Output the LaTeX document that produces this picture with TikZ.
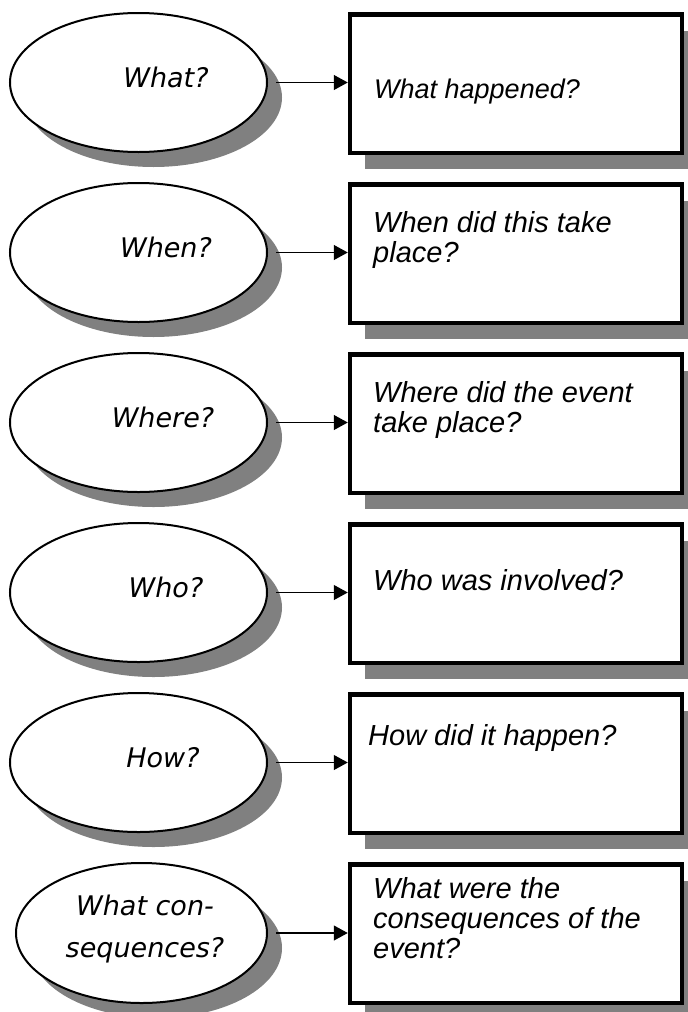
\documentclass[tikz,border=0pt]{standalone}
\usepackage{fontspec}
\setmainfont{Liberation Sans}
\newfontfamily\ellfont{DejaVu Sans}
\usetikzlibrary{shapes.geometric,shadows,arrows.meta}
\definecolor{shadowgray}{RGB}{128,128,128}
\tikzset{
  oval/.style={ellipse, draw, line width=2pt, fill=white, inner sep=0pt,
    minimum width=257pt, minimum height=139pt,
    drop shadow={shadow xshift=15pt, shadow yshift=-15pt, fill=shadowgray, opacity=1}},
  qbox/.style={rectangle, draw, line width=4.5pt, fill=white, inner sep=0pt,
    minimum width=332pt, minimum height=138.5pt,
    drop shadow={shadow xshift=15pt, shadow yshift=-16pt, fill=shadowgray, opacity=1}},
  etext/.style={font=\ellfont\itshape\fontsize{27}{42}\selectfont, anchor=base, inner sep=0pt, align=center},
  btext/.style={font=\itshape\fontsize{29}{30}\selectfont, anchor=base west, inner sep=0pt, align=left},
  arr/.style={line width=1.3pt, -{Triangle[length=14pt,width=15pt]}}
}
\begin{document}
\begin{tikzpicture}[x=1pt,y=-1pt]
\clip (0,0) rectangle (688,1012);
\useasboundingbox (0,0) rectangle (688,1012);
% ellipses
\node[oval] (e1) at (138.5,82.5) {};
\node[oval] (e2) at (138.5,252.5) {};
\node[oval] (e3) at (138.5,422.5) {};
\node[oval] (e4) at (138.5,592.5) {};
\node[oval] (e5) at (138.5,762.5) {};
\node[oval, minimum width=251pt, minimum height=140pt] (e6) at (141.5,933) {};
% boxes
\node[qbox] (b1) at (516,83.75) {};
\node[qbox] (b2) at (516,253.75) {};
\node[qbox] (b3) at (516,423.75) {};
\node[qbox] (b4) at (516,593.75) {};
\node[qbox] (b5) at (516,763.75) {};
\node[qbox] (b6) at (516,933.75) {};
% ellipse texts (base = last line)
\node[etext] (t1) at (166,87) {What?};
\node[etext] (t2) at (166,257) {When?};
\node[etext] (t3) at (163,427) {Where?};
\node[etext] (t4) at (166,597) {Who?};
\node[etext] (t5) at (163,767) {How?};
\node[etext] (t6) at (145,957) {What con-\\sequences?};
% box texts (base = last line)
\node[btext, font=\itshape\fontsize{27}{30}\selectfont] (q1) at (374,98) {What happened?};
\node[btext] (q2) at (373,262) {When did this take\\place?};
\node[btext] (q3) at (373,432) {Where did the event\\take place?};
\node[btext] (q4) at (373,590) {Who was involved?};
\node[btext] (q5) at (368,745) {How did it happen?};
\node[btext] (q6) at (373,958) {What were the\\consequences of the\\event?};
% arrows
\foreach \i in {1,...,6}{
  \draw[arr] ([xshift=8pt]e\i.east) -- (e\i.east -| b\i.west);
}
\end{tikzpicture}
\end{document}
